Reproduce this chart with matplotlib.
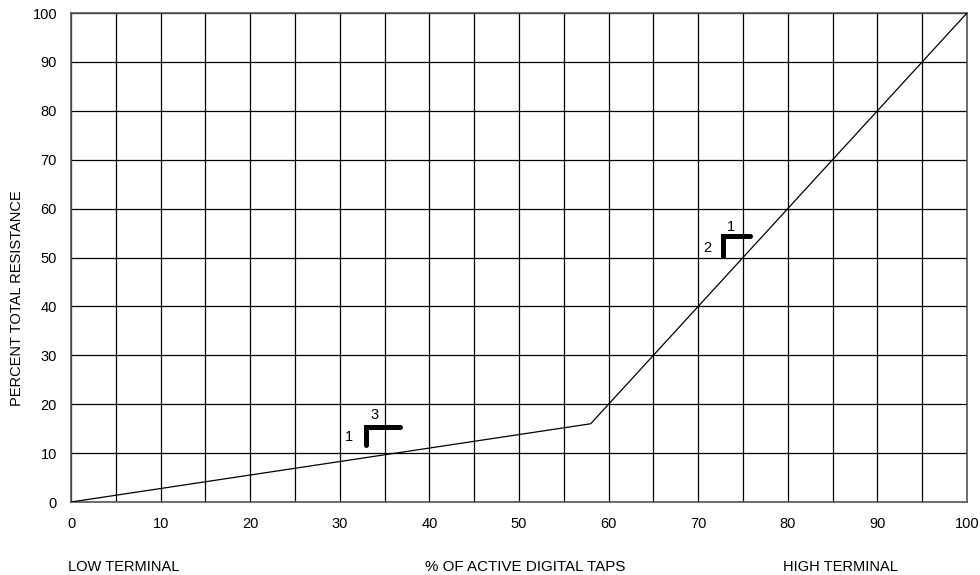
import matplotlib
matplotlib.use("Agg")
import matplotlib.pyplot as plt

# Data
curve_x = [0, 58, 100]
curve_y = [0, 16, 100]

x_ticks = list(range(0, 101, 10))
y_ticks = list(range(0, 101, 10))
x_grid = list(range(0, 101, 5))
y_grid = list(range(0, 101, 10))

# bracket markers: polyline points (x, y)
bracket_a_x = [32.9, 32.9, 36.7]
bracket_a_y = [11.7, 15.3, 15.3]
bracket_a_labels = [("1", 31.0, 13.2), ("3", 33.9, 17.7)]

bracket_b_x = [72.8, 72.8, 75.8]
bracket_b_y = [50.3, 54.4, 54.4]
bracket_b_labels = [("2", 71.0, 52.0), ("1", 73.6, 56.3)]

plt.rcParams['font.family'] = ['Liberation Sans', 'DejaVu Sans']
FS = 10.5

fig = plt.figure(figsize=(9.8, 5.75), dpi=100)
ax = fig.add_axes([71/980, 1 - 502/575, (967-71)/980, (502-13)/575])

for gx in x_grid:
    ax.axvline(gx, color='black', lw=0.9, zorder=1)
for gy in y_grid:
    ax.axhline(gy, color='black', lw=0.9, zorder=1)

ax.plot(curve_x, curve_y, color='black', lw=0.9, zorder=3)

for bx, by, labs in [(bracket_a_x, bracket_a_y, bracket_a_labels),
                     (bracket_b_x, bracket_b_y, bracket_b_labels)]:
    ax.plot(bx, by, color='black', lw=3.6, solid_capstyle='round',
            solid_joinstyle='miter', zorder=4)
    for t, tx, ty in labs:
        ax.text(tx, ty, t, fontsize=FS, ha='center', va='center', zorder=5)

ax.set_xlim(0, 100)
ax.set_ylim(0, 100)
ax.set_xticks(x_ticks)
ax.set_yticks(y_ticks)
ax.tick_params(axis='both', length=0, labelsize=FS)
ax.tick_params(axis='x', pad=11)
ax.tick_params(axis='y', pad=10)
for s in ax.spines.values():
    s.set_color('#555555')
    s.set_linewidth(1.2)
    s.set_zorder(2)

fig.text(17/980, 1 - 298/575, 'PERCENT TOTAL RESISTANCE', fontsize=FS,
         rotation=90, ha='center', va='center')

fig.text(68/980, 1 - 567/575, 'LOW TERMINAL', fontsize=FS, ha='left', va='center')
fig.text(425/980, 1 - 567/575, '% OF ACTIVE DIGITAL TAPS', fontsize=10.9, ha='left', va='center')
fig.text(840/980, 1 - 567/575, 'HIGH TERMINAL', fontsize=FS, ha='center', va='center')

fig.savefig('out.png', dpi=100)
